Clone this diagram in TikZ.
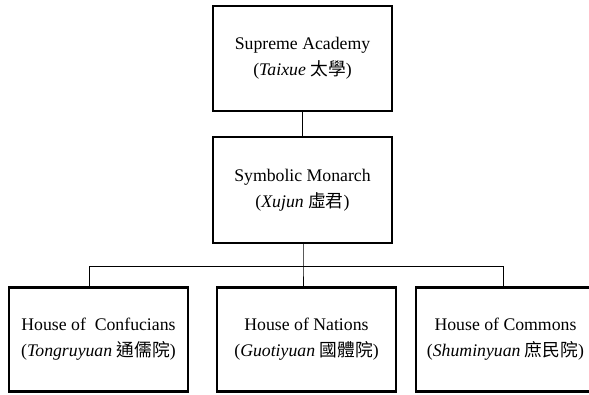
\documentclass[tikz,border=0pt]{standalone}
\usepackage{fontspec}
\setmainfont{Liberation Serif}
\newfontfamily\cjk{Noto Sans CJK TC}
\begin{document}
\begin{tikzpicture}[x=0.75pt,y=-0.75pt,
  box/.style={draw, line width=1.7pt, inner sep=0pt, outer sep=0pt,
    minimum width=134pt, minimum height=79pt, align=center,
    font=\fontsize{13.3}{19.5}\selectfont},
  link/.style={line width=0.7pt}]
\useasboundingbox (0,0) rectangle (589,395);
\node[box] (sa) at (302.5,58.5) {Supreme Academy\\(\textit{Taixue} {\cjk 太學})};
\node[box] (sm) at (302.5,190) {Symbolic Monarch\\(\textit{Xujun} {\cjk 虛君})};
\node[box, minimum height=78pt] (hc) at (98.5,339.5) {House of\ \ Confucians\\(\textit{Tongruyuan} {\cjk 通儒院})};
\node[box, minimum height=78pt] (hn) at (306.5,339.5) {House of Nations\\(\textit{Guotiyuan} {\cjk 國體院})};
\node[box, minimum height=78pt] (hm) at (505.5,339.5) {House of Commons\\(\textit{Shuminyuan} {\cjk 庶民院})};
\coordinate (bus) at (303,266.5);
\coordinate (j1) at (89,266.5);
\coordinate (j3) at (503,266.5);
\draw[link] (sa) -- (sm);
\draw[link] (sm.south -| bus) -- (bus) -- (bus |- hn.north);
\draw[link] (j1 |- hc.north) -- (j1) -- (j3) -- (j3 |- hm.north);
\end{tikzpicture}
\end{document}
